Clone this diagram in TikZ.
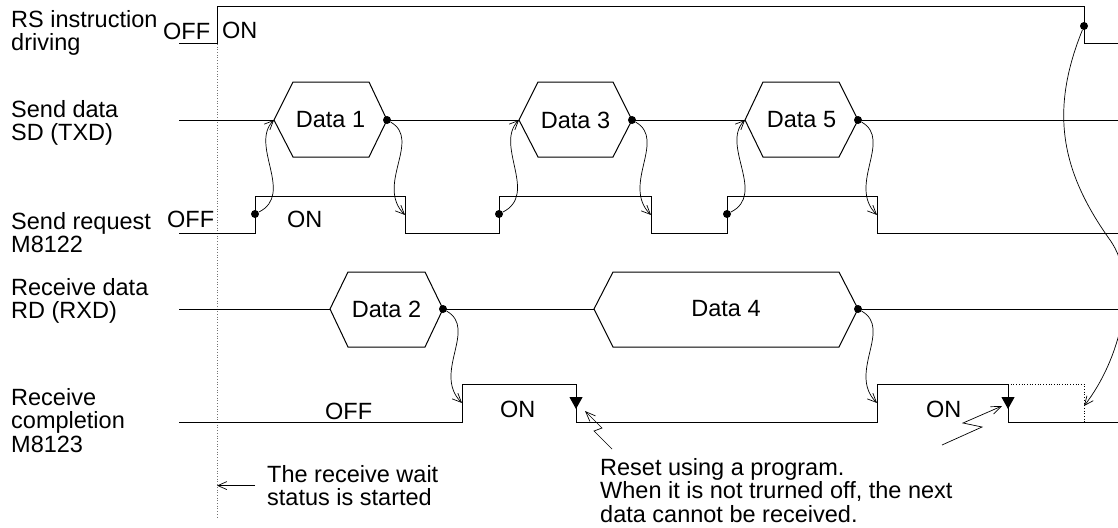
\documentclass[tikz,border=0pt]{standalone}
\usepackage{fontspec}
\setmainfont{Liberation Sans}
\usetikzlibrary{arrows.meta, calc}
\tikzset{
	wave/.style={line width=1pt, line join=miter, draw=black},
	hexa/.style={line width=1pt, line join=miter, draw=black, fill=white},
	link/.style={-{Straight Barb[length=9pt, width=8pt]}, line width=0.7pt},
	bolt/.style={-{Straight Barb[length=10pt, width=8pt]}, line width=0.7pt},
	droptip/.style={-{Triangle[length=12pt, width=13pt]}, line width=1pt},
	dot/.style={circle, fill=black, inner sep=0pt, minimum size=8pt},
	guide/.style={dotted, line width=0.7pt, draw=black!55},
	lbl/.style={font=\fontsize{23.5}{23.5}\selectfont, inner sep=0pt, align=left, anchor=north west},
	state/.style={font=\fontsize{23.5}{23.5}\selectfont, inner sep=0pt, anchor=base west},
	datatext/.style={font=\fontsize{23.5}{23.5}\selectfont, inner sep=0pt},
}

\begin{document}
\begin{tikzpicture}[x=1pt, y=-1pt]
	\useasboundingbox (0,0) rectangle (1118,527);
	% signal names
	\node[lbl] (rslbl) at (11,10) {RS instruction\\driving};
	\node[lbl] (sdlbl) at (11,100) {Send data\\SD (TXD)};
	\node[lbl] (srlbl) at (11,212) {Send request\\M8122};
	\node[lbl] (rdlbl) at (11,278) {Receive data\\RD (RXD)};
	\node[lbl] (rclbl) at (11,388) {Receive\\completion\\M8123};
	% RS instruction
	\draw[guide] (217,44) -- (217,518);
	\draw[wave] (179,44) -- (217,44) -- (217,7) -- (1084,7) -- (1084,44) -- (1118,44);
	\node[state] (rsoff) at (163,40) {OFF};
	\node[state] (rson) at (222,38) {ON};
	% send data
	\draw[wave] (179,120) -- (1118,120);
	\draw[hexa] (274,120) coordinate (d1w) -- (293,82) -- (369,82) -- (387,120) coordinate (d1e) -- (369,157) -- (293,157) -- cycle;
	\draw[hexa] (519,120) coordinate (d3w) -- (538,82) -- (613,82) -- (632,120) coordinate (d3e) -- (613,157) -- (538,157) -- cycle;
	\draw[hexa] (745,120) coordinate (d5w) -- (763,82) -- (839,82) -- (858,120) coordinate (d5e) -- (839,157) -- (763,157) -- cycle;
	\node[datatext] (d1) at (330.5,120) {Data 1};
	\node[datatext] (d3) at (575.5,120) {Data 3};
	\node[datatext] (d5) at (801.5,120) {Data 5};
	% send request
	\draw[wave] (179,233) -- (255,233) -- (255,196) -- (405,196) -- (405,233) -- (499,233) -- (499,196) -- (651,196) -- (651,233) -- (727,233) -- (727,196) -- (877,196) -- (877,233) -- (1118,233);
	\node[state] (sroff) at (167,227) {OFF};
	\node[state] (sron) at (287,227) {ON};
	% receive data
	\draw[wave] (179,309) -- (1118,309);
	\draw[hexa] (330,309) coordinate (d2w) -- (348,272) -- (425,272) -- (443,309) coordinate (d2e) -- (425,347) -- (348,347) -- cycle;
	\draw[hexa] (594,309) coordinate (d4w) -- (613,272) -- (839,272) -- (858,309) coordinate (d4e) -- (839,347) -- (613,347) -- cycle;
	\node[datatext] (d2) at (386.5,309) {Data 2};
	\node[datatext] (d4) at (726,309) {Data 4};
	% receive completion
	\draw[wave] (179,422) -- (462,422) -- (462,384) -- (576,384) -- (576,422) -- (877,422) -- (877,384) -- (1008,384) -- (1008,422) -- (1118,422);
	\draw[guide, draw=black] (1008,384) -- (1084,384) -- (1084,422);
	\draw[droptip] (576,384) -- (576,409);
	\draw[droptip] (1008,384) -- (1008,409);
	\node[state] (rcoff) at (325,419) {OFF};
	\node[state] (rcon1) at (500,417) {ON};
	\node[state] (rcon2) at (926,417) {ON};
	% dots and targets
	\node[dot] (rsfall) at (1084,26) {};
	\node[dot] (req1) at (255,214) {};
	\node[dot] (req3) at (499,214) {};
	\node[dot] (req5) at (727,214) {};
	\node[dot] (end1) at (d1e) {};
	\node[dot] (end3) at (d3e) {};
	\node[dot] (end5) at (d5e) {};
	\node[dot] (end2) at (d2e) {};
	\node[dot] (end4) at (d4e) {};
	\coordinate (fall1) at (405,215);
	\coordinate (fall3) at (651,215);
	\coordinate (fall5) at (877,215);
	\coordinate (rise2) at (462,403);
	\coordinate (rise4) at (877,403);
	\coordinate (hold) at (1084,406);
	% wavy links
	\draw[link] (req1) .. controls +(40,-20) and +(-25,25) .. (d1w);
	\draw[link] (req3) .. controls +(40,-20) and +(-25,25) .. (d3w);
	\draw[link] (req5) .. controls +(40,-20) and +(-25,25) .. (d5w);
	\draw[link] (end1) .. controls +(35,20) and +(-30,-30) .. (fall1);
	\draw[link] (end3) .. controls +(35,20) and +(-30,-30) .. (fall3);
	\draw[link] (end5) .. controls +(35,20) and +(-30,-30) .. (fall5);
	\draw[link] (end2) .. controls +(35,20) and +(-30,-30) .. (rise2);
	\draw[link] (end4) .. controls +(35,20) and +(-30,-30) .. (rise4);
	\draw[link] (rsfall) .. controls (1050,110) and (1060,170) .. (1110,240) .. controls (1140,282) and (1120,360) .. (hold);
	% reset arrows
	\coordinate (bolt1) at (612,449);
	\coordinate (hit1) at (585,411);
	\draw[bolt] (bolt1) -- (594,431) -- (602,428) -- (hit1);
	\coordinate (bolt2) at (942,445);
	\coordinate (hit2) at (1002,406);
	\draw[bolt] (bolt2) -- (982,427) -- (963,423) -- (hit2);
	% notes
	\node[lbl] (waitnote) at (267,465) {The receive wait\\status is started};
	\coordinate (waitline) at (217,488);
	\draw[link] ([xshift=-12pt]waitnote.west) -- (waitnote.west -| waitline);
	\node[lbl] (resetnote) at (600,458) {Reset using a program.\\When it is not trurned off, the next\\data cannot be received.};
\end{tikzpicture}
\end{document}
